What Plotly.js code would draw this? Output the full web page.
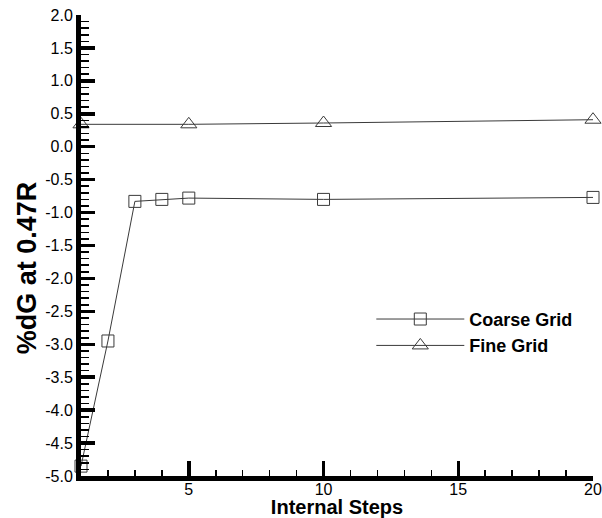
<!DOCTYPE html>
<html>
<head>
<meta charset="utf-8">
<script src="https://cdn.plot.ly/plotly-3.0.1.min.js"></script>
<style>
  html, body { margin: 0; padding: 0; background: #fff; }
  #chart { width: 602px; height: 518px; }
</style>
</head>
<body>
<div id="chart"></div>
<script>
// Convergence of %dG at 0.47R against the number of internal steps
const coarseSteps = [1, 2, 3, 4, 5, 10, 20];
const coarseDG    = [-4.85, -2.95, -0.83, -0.80, -0.78, -0.80, -0.77];
const fineSteps   = [1, 5, 10, 20];
const fineDG      = [0.34, 0.34, 0.36, 0.41];

const yTickVals = [-5, -4.5, -4, -3.5, -3, -2.5, -2, -1.5, -1, -0.5, 0, 0.5, 1, 1.5, 2];
const yTickText = ['-5.0', '-4.5', '-4.0', '-3.5', '-3.0', '-2.5', '-2.0', '-1.5', '-1.0', '-0.5', '0.0', '0.5', '1.0', '1.5', '2.0'];
const xTickVals = [5, 10, 15, 20];
const xTickText = ['5', '10', '15', '20'];

const FONT = 'Liberation Sans, Arial, Helvetica, sans-serif';
const lineCol = '#3a3a3a';

const traces = [
  {
    x: coarseSteps, y: coarseDG, name: 'Coarse Grid',
    mode: 'lines+markers', cliponaxis: false,
    line: { color: lineCol, width: 1 },
    marker: { symbol: 'square-open', size: 12, color: lineCol, line: { color: lineCol, width: 1 } }
  },
  {
    x: fineSteps, y: fineDG, name: 'Fine Grid',
    mode: 'lines+markers', cliponaxis: false,
    line: { color: lineCol, width: 1 },
    marker: { symbol: 'triangle-up-open', size: 14, color: lineCol, line: { color: lineCol, width: 1 } }
  }
];

const layout = {
  width: 602, height: 518,
  margin: { l: 81, r: 9, t: 15, b: 42 },
  paper_bgcolor: '#fff', plot_bgcolor: '#fff',
  font: { family: FONT, color: '#000' },
  showlegend: true,
  legend: {
    x: 0.567, y: 0.38, xanchor: 'left', yanchor: 'top',
    itemwidth: 88, tracegroupgap: 0, bgcolor: 'rgba(0,0,0,0)',
    font: { family: FONT, size: 18, weight: 'bold', color: '#000' }
  },
  xaxis: {
    range: [1, 20], showgrid: false, zeroline: false,
    showline: true, linecolor: 'black', linewidth: 5,
    ticks: 'inside', ticklen: 15, tickwidth: 3.5, tickcolor: 'black',
    tickmode: 'array', tickvals: xTickVals, ticktext: xTickText,
    tickfont: { family: FONT, size: 16, color: '#000' },
    ticklabelstandoff: -5,
    minor: { ticks: 'inside', dtick: 1, ticklen: 6, tickwidth: 1.6, tickcolor: 'black' },
    title: { text: 'Internal Steps', standoff: 0, font: { family: FONT, size: 20, weight: 'bold', color: '#000' } }
  },
  yaxis: {
    range: [-5, 2], showgrid: false, zeroline: false,
    showline: true, linecolor: 'black', linewidth: 5,
    ticks: 'inside', ticklen: 14, tickwidth: 3.5, tickcolor: 'black',
    tickmode: 'array', tickvals: yTickVals, ticktext: yTickText,
    tickfont: { family: FONT, size: 16, color: '#000' },
    minor: { ticks: 'inside', dtick: 0.1, ticklen: 8, tickwidth: 1.6, tickcolor: 'black' }
  },
  annotations: [
    {
      text: '%dG at 0.47R', textangle: -90,
      xref: 'paper', yref: 'paper', x: -0.106, y: 0.452,
      xanchor: 'center', yanchor: 'middle', showarrow: false,
      font: { family: FONT, size: 27, weight: 'bold', color: '#000' }
    }
  ]
};

Plotly.newPlot('chart', traces, layout, { staticPlot: true, displayModeBar: false });
</script>
</body>
</html>
